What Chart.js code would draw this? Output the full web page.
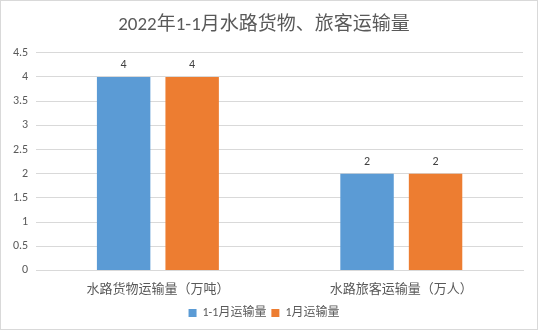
<!DOCTYPE html>
<html>
<head>
<meta charset="utf-8">
<script src="https://cdn.jsdelivr.net/npm/chart.js@4"></script>
<style>
  html, body { margin: 0; padding: 0; background: #fff; }
  #cadre { width: 538px; height: 330px; box-sizing: border-box; border: 1px solid #d9d9d9; background: #fff; }
</style>
</head>
<body>
<div id="cadre"><canvas id="graph" width="536" height="328"></canvas></div>
<script>
const categories = ["水路货物运输量（万吨）", "水路旅客运输量（万人）"];
const cumul = [4, 2];
const mois = [4, 2];
const nomsSeries = ["1-1月运输量", "1月运输量"];
const titre = "2022年1-1月水路货物、旅客运输量";

const police = "Calibri, 'Noto Sans CJK SC', sans-serif";

// écrit la valeur au-dessus de chaque barre
const etiquettes = {
  id: "etiquettes",
  afterDatasetsDraw(chart) {
    const ctx = chart.ctx;
    ctx.save();
    ctx.font = "12px " + police;
    ctx.fillStyle = "#404040";
    ctx.textAlign = "center";
    ctx.textBaseline = "bottom";
    chart.data.datasets.forEach((ds, i) => {
      chart.getDatasetMeta(i).data.forEach((bar, j) => {
        ctx.fillText(String(ds.data[j]), bar.x, bar.y - 6);
      });
    });
    ctx.restore();
  }
};

new Chart(document.getElementById("graph").getContext("2d"), {
  type: "bar",
  data: {
    labels: categories,
    datasets: [
      { label: nomsSeries[0], data: cumul, backgroundColor: "#5b9bd5" },
      { label: nomsSeries[1], data: mois, backgroundColor: "#ed7d31" }
    ]
  },
  options: {
    responsive: false,
    animation: false,
    categoryPercentage: 0.563,
    barPercentage: 0.78,
    layout: { padding: { left: 4, right: 14, top: 0, bottom: 0 } },
    scales: {
      y: {
        min: 0,
        max: 4.5,
        ticks: {
          stepSize: 0.5,
          color: "#595959",
          font: { size: 12, family: police },
          padding: 8,
          callback: v => String(v)
        },
        grid: { color: "#d9d9d9", drawTicks: false },
        border: { display: false }
      },
      x: {
        ticks: { color: "#595959", font: { size: 13, family: police }, padding: 4 },
        grid: { display: false },
        border: { color: "#d9d9d9" }
      }
    },
    plugins: {
      title: {
        display: true,
        text: titre,
        color: "#595959",
        font: { size: 19, family: police, weight: "normal" },
        padding: { top: 13, bottom: 16 }
      },
      legend: {
        position: "bottom",
        labels: { color: "#595959", font: { size: 12, family: police }, boxWidth: 8, boxHeight: 8, padding: 5 }
      },
      tooltip: { enabled: false }
    }
  },
  plugins: [etiquettes]
});
</script>
</body>
</html>
